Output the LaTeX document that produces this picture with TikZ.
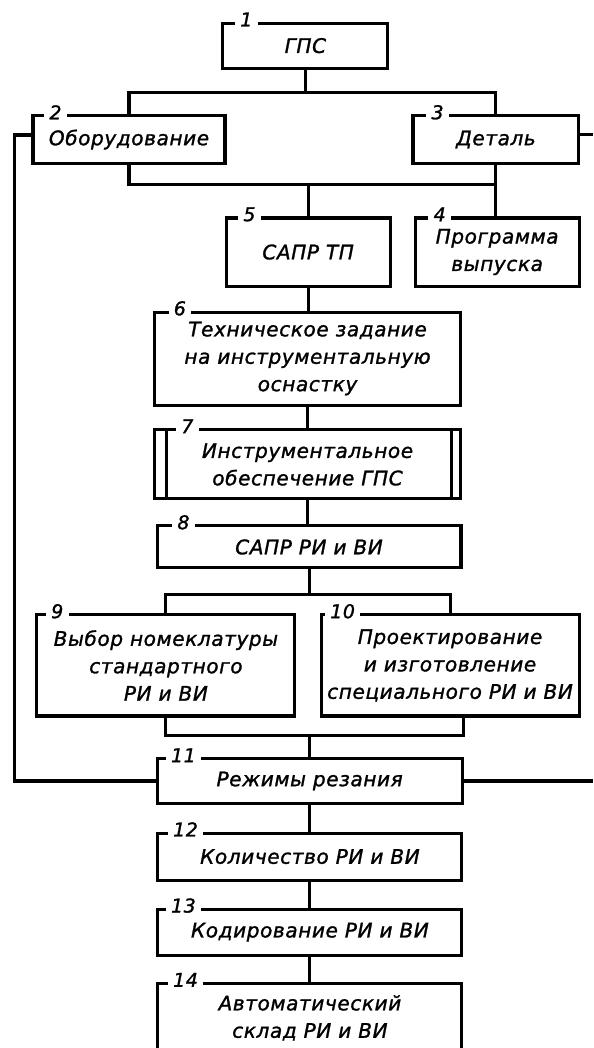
\documentclass[tikz,border=0pt]{standalone}
\usepackage{fontspec}
\newfontfamily\gostfont{DejaVu Sans}[LetterSpace=3,FakeBold=1.3]
\tikzset{
    box/.style = {rectangle, line width=2.9pt, draw=black, align=center, inner sep=2pt, font={\gostfont\itshape\fontsize{19}{26}\selectfont}},
    num/.style = {fill=white, inner xsep=5pt, inner ysep=0pt, yshift=2pt, font={\gostfont\itshape\fontsize{18}{18}\selectfont}},
    wire/.style = {line width=2.9pt},
}
\begin{document}
\begin{tikzpicture}
%
\path[use as bounding box] (0,0) rectangle (19.77,-34.93);
\clip (0,0) rectangle (19.77,-34.93);
%
\node[box, minimum width=5.5cm, minimum height=1.5cm] at (10.18,-1.52) (b1) {ГПС};
\node[box, minimum width=6.4cm, minimum height=1.57cm] at (4.3,-4.65) (b2) {Оборудование};
\node[box, minimum width=5.53cm, minimum height=1.57cm] at (16.53,-4.65) (b3) {Деталь};
\node[box, minimum width=5.47cm, minimum height=2.27cm] at (16.57,-8.4) (b4) {Программа\\выпуска};
\node[box, minimum width=5.47cm, minimum height=2.27cm] at (10.27,-8.4) (b5) {САПР ТП};
\node[box, minimum width=10.17cm, minimum height=3.1cm] at (10.25,-11.95) (b6) {Техническое задание\\на инструментальную\\оснастку};
\node[box, minimum width=10.17cm, minimum height=2.3cm] at (10.25,-15.48) (b7) {Инструментальное\\обеспечение ГПС};
\node[box, minimum width=10.13cm, minimum height=1.4cm] at (10.3,-18.23) (b8) {САПР РИ и ВИ};
\node[box, minimum width=8.6cm, minimum height=3.37cm] at (5.53,-22.18) (b9) {Выбор номеклатуры\\стандартного\\РИ и ВИ};
\node[box, minimum width=8.6cm, minimum height=3.37cm] at (15.0,-22.18) (b10) {Проектирование\\и изготовление\\специального РИ и ВИ};
\node[box, minimum width=10.17cm, minimum height=1.47cm] at (10.32,-26.03) (b11) {Режимы резания};
\node[box, minimum width=10.13cm, minimum height=1.57cm] at (10.33,-28.55) (b12) {Количество РИ и ВИ};
\node[box, minimum width=10.13cm, minimum height=1.53cm] at (10.33,-31.07) (b13) {Кодирование РИ и ВИ};
\node[box, minimum width=10.13cm, inner ysep=11pt, text depth=2cm, anchor=north] at (10.33,-32.73) (b14) {Автоматический\\склад РИ и ВИ};
%
\draw[wire] ([xshift=0.43cm]b7.north west) -- ([xshift=0.43cm]b7.south west);
\draw[wire] ([xshift=-0.35cm]b7.north east) -- ([xshift=-0.35cm]b7.south east);
%
\coordinate (j1) at ([yshift=-0.77cm]b1.south);
\coordinate (j2) at ([yshift=1.07cm]b5.north);
\coordinate (j3) at ([yshift=-0.83cm]b8.south);
\coordinate (j4) at ([yshift=0.73cm]b11.north);
\coordinate (lx) at (0.47,0);
\coordinate (rx) at (19.77,0);
%
\draw[wire] (b1.south) -- (j1);
\draw[wire] (b2.north) |- (j1) -| (b3.north);
\draw[wire] (b2.south) |- (j2) -| (b3.south);
\draw[wire] (b3.south) -- (b3.south |- b4.north);
\draw[wire] (j2) -- (b5.north);
\draw[wire] (b5.south) -- (b5.south |- b6.north);
\draw[wire] (b6.south) -- (b7.north);
\draw[wire] (b7.south) -- (b7.south |- b8.north);
\draw[wire] (b8.south) -- (j3);
\draw[wire] (b9.north) |- (j3) -| (b10.north);
\draw[wire] (b9.south) |- (j4) -| (b10.south -| b11.east);
\draw[wire] (j4) -- (b11.north);
\draw[wire] (b11.south) -- (b11.south |- b12.north);
\draw[wire] (b12.south) -- (b13.north);
\draw[wire] (b13.south) -- (b14.north);
% feedback lines
\draw[wire] ([yshift=0.15cm]b2.west) -| (lx |- b11.west) -- (b11.west);
\draw[wire] ([yshift=0.18cm]b3.east) -- ([yshift=0.18cm]b3.east -| rx);
\draw[wire] (b11.east) -- (b11.east -| rx);
%
\node[num] at ([xshift=0.83cm]b1.north west) (n1) {1};
\node[num] at ([xshift=0.8cm]b2.north west) (n2) {2};
\node[num] at ([xshift=0.87cm]b3.north west) (n3) {3};
\node[num] at ([xshift=0.87cm]b4.north west) (n4) {4};
\node[num] at ([xshift=0.83cm]b5.north west) (n5) {5};
\node[num] at ([xshift=0.88cm]b6.north west) (n6) {6};
\node[num] at ([xshift=1.13cm]b7.north west) (n7) {7};
\node[num] at ([xshift=0.93cm]b8.north west) (n8) {8};
\node[num] at ([xshift=0.73cm]b9.north west) (n9) {9};
\node[num] at ([xshift=0.77cm]b10.north west) (n10) {10};
\node[num] at ([xshift=0.93cm]b11.north west) (n11) {11};
\node[num] at ([xshift=0.97cm]b12.north west) (n12) {12};
\node[num] at ([xshift=0.9cm]b13.north west) (n13) {13};
\node[num] at ([xshift=0.97cm]b14.north west) (n14) {14};

\end{tikzpicture}
\end{document}
